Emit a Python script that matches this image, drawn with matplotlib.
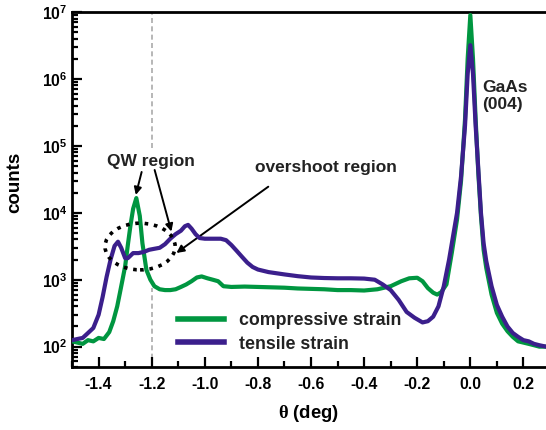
import matplotlib
matplotlib.use("Agg")
import matplotlib.pyplot as plt
from matplotlib.patches import Ellipse
from matplotlib.ticker import FuncFormatter, LogLocator, MultipleLocator
import numpy as np

plt.rcParams['font.family'] = ['Liberation Sans', 'DejaVu Sans']
plt.rcParams['font.weight'] = 'bold'
plt.rcParams['mathtext.fontset'] = 'custom'
plt.rcParams['mathtext.bf'] = 'Liberation Sans:bold'
plt.rcParams['mathtext.rm'] = 'Liberation Serif'

# rocking curves, theta in degrees vs detector counts
comp_theta = [-1.50, -1.48, -1.46, -1.44, -1.42, -1.40, -1.38, -1.36, -1.345, -1.33,
              -1.32, -1.31, -1.30, -1.29, -1.28, -1.27, -1.258, -1.245, -1.235, -1.22,
              -1.205, -1.19, -1.17, -1.15, -1.13, -1.11, -1.09, -1.07, -1.05, -1.03,
              -1.012, -0.99, -0.97, -0.95, -0.93, -0.90, -0.85, -0.80, -0.75, -0.70,
              -0.65, -0.60, -0.55, -0.50, -0.45, -0.40, -0.35, -0.30, -0.26, -0.23,
              -0.20, -0.18, -0.16, -0.14, -0.125, -0.11, -0.09, -0.07, -0.05, -0.035,
              -0.02, -0.01, 0.0, 0.01, 0.02, 0.03, 0.04, 0.05, 0.06, 0.08,
              0.10, 0.12, 0.14, 0.16, 0.18, 0.20, 0.22, 0.24, 0.26, 0.285]
comp_counts = [120, 115, 110, 125, 120, 135, 130, 165, 240, 400,
               630, 1000, 1600, 3300, 6500, 11500, 16600, 9000, 3500, 1400,
               1000, 800, 720, 700, 700, 720, 780, 850, 950, 1080,
               1120, 1050, 1000, 950, 800, 780, 790, 780, 770, 760,
               740, 730, 720, 700, 700, 690, 720, 800, 950, 1050,
               1070, 950, 750, 640, 600, 650, 850, 2500, 8000, 30000,
               250000, 2000000, 9000000, 2000000, 250000, 40000, 9000, 2800, 1500, 600,
               320, 220, 170, 140, 120, 115, 110, 105, 100, 100]

tens_theta = [-1.50, -1.48, -1.46, -1.44, -1.42, -1.40, -1.385, -1.37, -1.355, -1.34,
              -1.327, -1.315, -1.30, -1.29, -1.27, -1.25, -1.23, -1.21, -1.19, -1.17,
              -1.15, -1.13, -1.11, -1.09, -1.075, -1.063, -1.05, -1.035, -1.02, -1.0,
              -0.98, -0.96, -0.94, -0.92, -0.90, -0.88, -0.86, -0.84, -0.82, -0.80,
              -0.76, -0.70, -0.65, -0.60, -0.55, -0.50, -0.45, -0.40, -0.36, -0.33,
              -0.30, -0.27, -0.24, -0.21, -0.18, -0.16, -0.14, -0.12, -0.10, -0.08,
              -0.063, -0.05, -0.035, -0.02, -0.01, 0.0, 0.01, 0.02, 0.03, 0.04,
              0.05, 0.06, 0.08, 0.10, 0.12, 0.14, 0.16, 0.18, 0.20, 0.22,
              0.24, 0.26, 0.285]
tens_counts = [125, 130, 135, 160, 190, 300, 550, 1100, 2000, 3200,
               3700, 3000, 2100, 2100, 2500, 2500, 2600, 2800, 2900, 3000,
               3400, 4100, 4800, 5400, 6300, 6600, 5800, 4800, 4200, 4100,
               4100, 4100, 4100, 3900, 3300, 2700, 2200, 1800, 1550, 1420,
               1300, 1200, 1130, 1080, 1060, 1050, 1050, 1040, 1000, 850,
               700, 500, 330, 270, 230, 240, 280, 400, 800, 2000,
               5000, 10000, 35000, 200000, 1200000, 3200000, 1200000, 200000, 45000, 10000,
               3500, 1900, 800, 420, 280, 200, 160, 140, 125, 120,
               110, 105, 100]

x_ticks = [-1.4, -1.2, -1.0, -0.8, -0.6, -0.4, -0.2, 0.0, 0.2]

green = '#009640'
purple = '#3b1f8c'

fig = plt.figure(figsize=(5.46, 4.30), dpi=100)
ax = fig.add_axes([0.132, 0.147, 0.868, 0.825])

# reference line at -1.2 deg, broken where the labels sit
ax.axvline(-1.2, ymin=0.617, ymax=1, color='#aaaaaa', ls=(0, (3, 2)), lw=1.2, zorder=1)
ax.axvline(-1.2, ymin=0, ymax=0.222, color='#aaaaaa', ls=(0, (3, 2)), lw=1.2, zorder=1)

ax.plot(comp_theta, comp_counts, color=green, lw=3, label='compressive strain', zorder=3)
ax.plot(tens_theta, tens_counts, color=purple, lw=3, label='tensile strain', zorder=4)

ax.set_yscale('log')
ax.set_xlim(-1.5, 0.285)
ax.set_ylim(50, 1e7)

ax.set_xticks(x_ticks)
ax.set_xticklabels(['%.1f' % t for t in x_ticks])
ax.xaxis.set_minor_locator(MultipleLocator(0.1))
ax.yaxis.set_major_locator(LogLocator(base=10, numticks=10))
ax.yaxis.set_minor_locator(LogLocator(base=10, subs=np.arange(2, 10), numticks=20))
ax.yaxis.set_major_formatter(FuncFormatter(lambda v, p: r'$\mathbf{10^{%d}}$' % round(np.log10(v))))

ax.tick_params(which='both', direction='in', width=1.6, labelsize=11.3, top=False, right=False)
ax.tick_params(which='major', length=7)
ax.tick_params(which='minor', length=4)
ax.tick_params(axis='x', pad=7)
for lab in ax.get_xticklabels():
    lab.set_fontweight('bold')

for side in ['left', 'bottom', 'top']:
    ax.spines[side].set_linewidth(2)
ax.spines['right'].set_visible(False)

ax.set_ylabel('counts', fontsize=13.5, fontweight='bold')
ax.yaxis.set_label_coords(-0.103, 0.521)
ax.set_xlabel(r'$\mathrm{\theta}$ (deg)', fontsize=13.3, fontweight='bold', labelpad=8)

# dotted ring round the overshoot shoulder
ring = Ellipse((0.1435, 0.339), 0.148, 0.1315, transform=ax.transAxes, fill=False,
               ls=(0, (1, 1.6)), lw=2.6, color='k', zorder=5)
ax.add_patch(ring)

arrow = dict(arrowstyle='-|>', color='k', lw=1.4, mutation_scale=11, shrinkA=0, shrinkB=0)
ax.text(-1.202, 10**4.77, 'QW region', ha='center', va='center', fontsize=12.5, fontweight='bold', color='#222222')
ax.annotate('', xy=(-1.260, 10**4.267), xytext=(-1.238, 10**4.61), arrowprops=arrow)
ax.annotate('', xy=(-1.126, 10**3.72), xytext=(-1.189, 10**4.64), arrowprops=arrow)
ax.text(-0.543, 10**4.67, 'overshoot region', ha='center', va='center', fontsize=12.5, fontweight='bold', color='#222222')
ax.annotate('', xy=(-1.107, 10**3.40), xytext=(-0.761, 10**4.39), arrowprops=arrow)
ax.text(0.045, 10**5.745, 'GaAs\n(004)', ha='left', va='center', fontsize=12.5, fontweight='bold',
        color='#222222', linespacing=1.1)

leg = ax.legend(loc='lower left', bbox_to_anchor=(0.19, -0.005), frameon=False, fontsize=12.8,
                handlelength=2.6, handletextpad=0.8, labelspacing=0.35)
for t in leg.get_texts():
    t.set_fontweight('bold')
    t.set_color('#222222')
for h in leg.get_lines():
    h.set_linewidth(4)

fig.savefig('out.png', dpi=100)
